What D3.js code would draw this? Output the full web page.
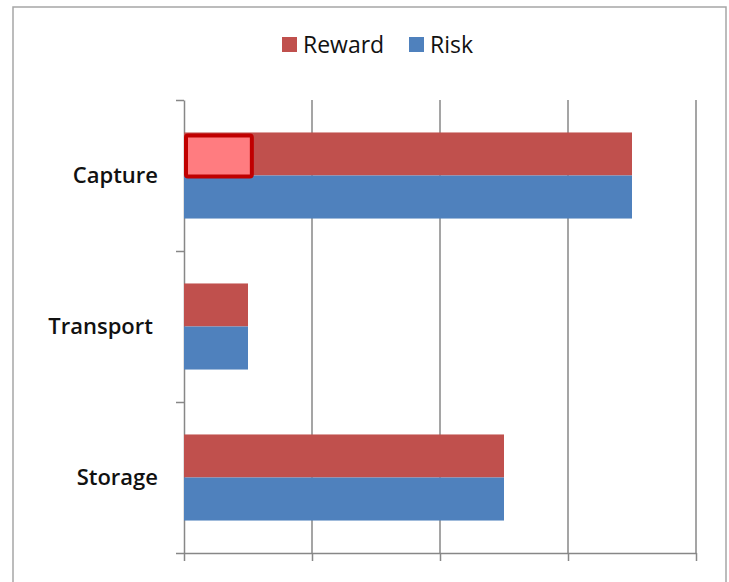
<!DOCTYPE html>
<meta charset="utf-8">
<style>
body { margin: 0; background: #fff; font-family: "Open Sans", "Liberation Sans", Arial, sans-serif; }
.frame { fill: #fff; stroke: #a6a6a6; stroke-width: 1.5; }
.grid line { stroke: #878787; stroke-width: 1.5; }
.axis path, .axis line { stroke: #878787; stroke-width: 1.5; }
.cat { font-size: 22px; font-weight: 600; fill: #111; }
.legend text { font-size: 23px; fill: #111; }
</style>
<svg width="729" height="582"></svg>
<script src="https://cdn.jsdelivr.net/npm/d3@7"></script>
<script>

var categories = ["Capture", "Transport", "Storage"];
var seriesNames = ["Reward", "Risk"];
var reward = [3.5, 0.5, 2.5];
var risk = [3.5, 0.5, 2.5];
var xTicks = [0, 1, 2, 3, 4];
// highlighted cell drawn over the Capture / Reward bar
var highlight = {category: "Capture", series: "Reward", from: 0, to: 0.53};

var colors = {Reward: "#c0504d", Risk: "#4f81bd"};

var svg = d3.select("svg");

svg.append("rect").attr("class", "frame")
    .attr("x", 13).attr("y", 7).attr("width", 713).attr("height", 600);

var x = d3.scaleLinear().domain([0, 4]).range([184, 696]);
var y = d3.scaleBand().domain(categories).range([100, 553]).paddingInner(0.43).paddingOuter(0.215);
var ySub = d3.scaleBand().domain(seriesNames).range([0, y.bandwidth()]);

// vertical gridlines
svg.append("g").attr("class", "grid")
    .selectAll("line")
    .data(xTicks.slice(1))
    .enter().append("line")
    .attr("x1", function(d) { return x(d); })
    .attr("x2", function(d) { return x(d); })
    .attr("y1", 100).attr("y2", 553);

// x axis (no labels)
svg.append("g").attr("class", "axis")
    .attr("transform", "translate(0,553)")
    .call(d3.axisBottom(x).tickValues(xTicks).tickSize(8).tickSizeOuter(0).tickFormat(""));

// y axis, ticks between categories
var yEdge = d3.scaleLinear().domain([0, 3]).range([100, 553]);
svg.append("g").attr("class", "axis")
    .attr("transform", "translate(184,0)")
    .call(d3.axisLeft(yEdge).ticks(3).tickSize(8).tickSizeOuter(0).tickFormat(""));

var rows = categories.map(function(c, i) {
    return {cat: c, values: [{s: "Reward", v: reward[i]}, {s: "Risk", v: risk[i]}]};
});

var groups = svg.append("g").selectAll("g")
    .data(rows)
    .enter().append("g")
    .attr("transform", function(d) { return "translate(0," + y(d.cat) + ")"; });

groups.selectAll("rect")
    .data(function(d) { return d.values; })
    .enter().append("rect")
    .attr("x", x(0))
    .attr("y", function(d) { return ySub(d.s); })
    .attr("width", function(d) { return x(d.v) - x(0); })
    .attr("height", ySub.bandwidth())
    .attr("fill", function(d) { return colors[d.s]; });

// category labels
svg.append("g").selectAll("text")
    .data(categories)
    .enter().append("text")
    .attr("class", "cat")
    .attr("x", function(d) { return d === "Transport" ? 153 : 158; })
    .attr("y", function(d) { return y(d) + y.bandwidth() / 2; })
    .attr("dy", "0.35em")
    .attr("text-anchor", "end")
    .text(function(d) { return d; });

// highlight box
svg.append("rect")
    .attr("x", x(highlight.from) + 2)
    .attr("y", y(highlight.category) + ySub(highlight.series) + 3)
    .attr("width", x(highlight.to) - x(highlight.from) - 2)
    .attr("height", ySub.bandwidth() - 2)
    .attr("fill", "#ff7c80")
    .attr("stroke", "#c00000")
    .attr("stroke-width", 4)
    .attr("rx", 2);

// legend
var legend = svg.append("g").attr("class", "legend");
var legendX = [282, 409];
seriesNames.forEach(function(s, i) {
    legend.append("rect")
        .attr("x", legendX[i]).attr("y", 37)
        .attr("width", 15).attr("height", 15)
        .attr("fill", colors[s]);
    legend.append("text")
        .attr("x", legendX[i] + 21).attr("y", 53)
        .text(s);
});

</script>
